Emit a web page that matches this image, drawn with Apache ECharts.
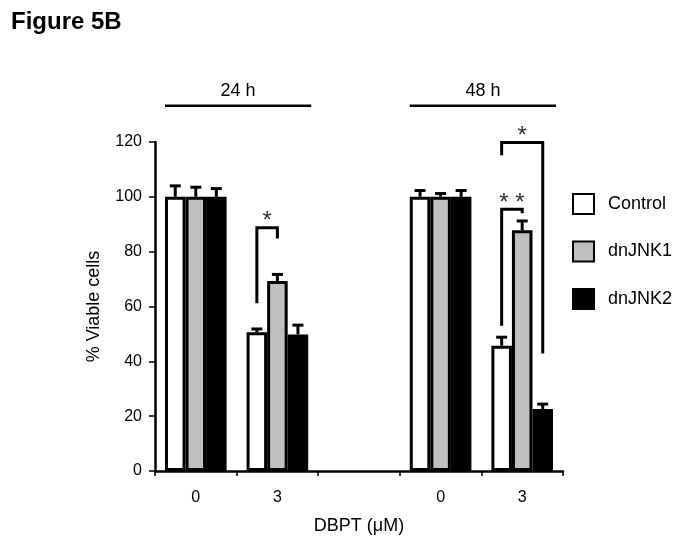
<!DOCTYPE html>
<html><head><meta charset="utf-8">
<script src="https://cdn.jsdelivr.net/npm/echarts@6/dist/echarts.min.js"></script>
<style>html,body{margin:0;padding:0;background:#fff}#c{width:687px;height:559px}</style>
</head><body><div id="c"></div>
<script>
const categories = ['0', '3', '', '0', '3'];
const seriesNames = ['Control', 'dnJNK1', 'dnJNK2'];
const control = [100, 50.6, null, 100, 45.7];
const dnJNK1 = [100, 69.3, null, 100, 87.8];
const dnJNK2 = [100, 49.8, null, 100, 22.6];
const controlErr = [4, 1.2, null, 2.3, 3.1];
const dnJNK1Err = [3.5, 2.4, null, 1.2, 3.4];
const dnJNK2Err = [3, 3.4, null, 2.3, 1.8];
const yTicks = [0, 20, 40, 60, 80, 100, 120];
// brackets: [category, leftBar, rightBar, leftBottomValue, topValue, rightBottomValue, label]
const brackets = [
  [1, 0, 1, 61.2, 88.7, 84.8, '*'],
  [4, 0, 1, 53, 95.5, 94, '**'],
  [4, 0, 2, 115.2, 119.8, 42.9, '*']
];
// time groups: [firstCategory, lastCategory, label]
const groups = [[0, 1, '24 h'], [3, 4, '48 h']];

const FONT = "'Liberation Sans', Arial, sans-serif";
const GAP = 0.245;
const values = [control, dnJNK1, dnJNK2];
const errs = [controlErr, dnJNK1Err, dnJNK2Err];
const fills = ['#ffffff', '#c0c0c0', '#000000'];

function barInfo(api) {
  const band = api.size([1, 0])[0];
  const bw = band * (1 - GAP) / 3;
  return { band, bw };
}

const series = [];
seriesNames.forEach((n, i) => {
  series.push({
    name: n, type: 'bar', data: values[i],
    barGap: '0%', barCategoryGap: (GAP * 100) + '%',
    itemStyle: { color: fills[i], borderColor: '#000', borderWidth: 3 },
    z: 2
  });
});
seriesNames.forEach((n, i) => {
  series.push({
    type: 'custom', silent: true, z: 3, clip: false,
    data: categories.map((c, k) => values[i][k] == null ? null : [k, values[i][k], errs[i][k]]).filter(d => d),
    renderItem: function (params, api) {
      const k = api.value(0), v = api.value(1), e = api.value(2);
      const { bw } = barInfo(api);
      const p0 = api.coord([k, v]);
      const p1 = api.coord([k, v + e]);
      const x = p0[0] + (i - 1) * bw;
      const col = '#000';
      return { type: 'group', children: [
        { type: 'line', shape: { x1: x, y1: p0[1], x2: x, y2: p1[1] }, style: { stroke: col, lineWidth: 3 } },
        { type: 'line', shape: { x1: x - 5.5, y1: p1[1], x2: x + 5.5, y2: p1[1] }, style: { stroke: col, lineWidth: 3 } }
      ]};
    }
  });
});
series.push({
  type: 'custom', silent: true, z: 4, clip: false,
  data: brackets.map(b => b.slice(0, 6)),
  renderItem: function (params, api) {
    const b = brackets[params.dataIndex];
    const { bw } = barInfo(api);
    const c = api.coord([b[0], 0])[0];
    const xl = c + (b[1] - 1) * bw, xr = c + (b[2] - 1) * bw;
    const yl = api.coord([b[0], b[3]])[1], yt = api.coord([b[0], b[4]])[1], yr = api.coord([b[0], b[5]])[1];
    return { type: 'group', children: [
      { type: 'polyline', shape: { points: [[xl, yl], [xl, yt], [xr, yt], [xr, yr]] }, style: { stroke: '#000', lineWidth: 3, fill: null } },
      { type: 'text', style: { x: (xl + xr) / 2, y: yt - 6, text: b[6].split('').join(' '), fill: '#333', font: '24px ' + FONT, align: 'center', verticalAlign: 'middle' } }
    ]};
  }
});
series.push({
  type: 'custom', silent: true, z: 4, clip: false,
  data: groups.map(g => [g[0], g[1]]),
  renderItem: function (params, api) {
    const g = groups[params.dataIndex];
    const { band } = barInfo(api);
    const pad = band * GAP / 2;
    const xl = api.coord([g[0], 0])[0] - band / 2 + pad;
    const xr = api.coord([g[1], 0])[0] + band / 2 - pad + 3;
    const y = api.coord([0, 133.2])[1];
    return { type: 'group', children: [
      { type: 'line', shape: { x1: xl, y1: y, x2: xr, y2: y }, style: { stroke: '#000', lineWidth: 2.5 } },
      { type: 'text', style: { x: (xl + xr) / 2, y: y - 15, text: g[2], fill: '#000', font: '18px ' + FONT, align: 'center', verticalAlign: 'middle' } }
    ]};
  }
});

const chart = echarts.init(document.getElementById('c'));
chart.setOption({
  animation: false,
  backgroundColor: '#fff',
  textStyle: { fontFamily: FONT },
  title: { text: 'Figure 5B', left: 11, top: 10, padding: 0, textStyle: { fontFamily: FONT, fontSize: 24, fontWeight: 'bold', color: '#000' } },
  legend: {
    data: seriesNames, orient: 'vertical', left: 572, top: 193, padding: 0,
    itemWidth: 21, itemHeight: 20, itemGap: 25.5, icon: 'rect',
    textStyle: { fontFamily: FONT, fontSize: 18, color: '#000', padding: [0, 0, 0, 9] }
  },
  grid: { left: 155, right: 124, top: 142, bottom: 88, containLabel: false },
  xAxis: {
    type: 'category', data: categories,
    name: 'DBPT (\u03bcM)', nameLocation: 'middle', nameGap: 46,
    nameTextStyle: { fontFamily: FONT, fontSize: 18, color: '#000' },
    axisLine: { lineStyle: { color: '#000', width: 2.5 } },
    axisTick: { show: true, length: 5, lineStyle: { color: '#000', width: 1.5 } },
    axisLabel: { margin: 19, fontSize: 16, color: '#000', fontFamily: FONT }
  },
  yAxis: {
    type: 'value', min: yTicks[0], max: yTicks[yTicks.length - 1], interval: 20,
    name: '% Viable cells', nameLocation: 'middle', nameGap: 52,
    nameTextStyle: { fontFamily: FONT, fontSize: 18, color: '#000' },
    axisLine: { show: true, lineStyle: { color: '#000', width: 2.5 } },
    axisTick: { show: true, length: 6, lineStyle: { color: '#000', width: 1.5 } },
    axisLabel: { margin: 13, fontSize: 16, color: '#000', fontFamily: FONT },
    splitLine: { show: false }
  },
  series: series
});
</script></body></html>
